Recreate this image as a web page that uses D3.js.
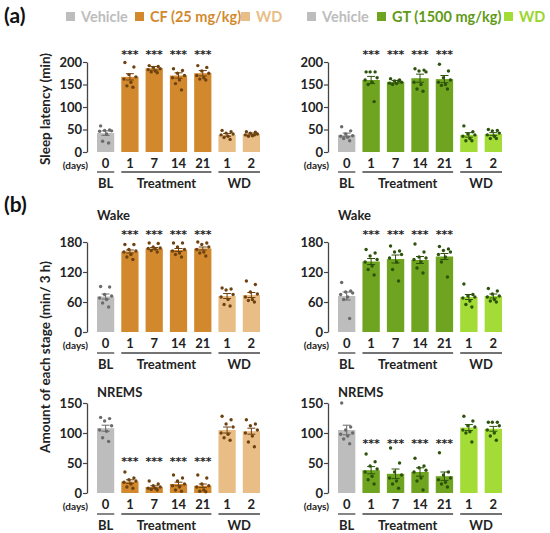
<!DOCTYPE html>
<html><head><meta charset="utf-8">
<script src="https://cdn.jsdelivr.net/npm/d3@7"></script>
<style>body{margin:0;background:#fff}svg{display:block;font-family:Lato,"Open Sans",sans-serif}</style>
</head><body><svg id="c" width="550" height="533"></svg>
<script>
// ---------- data ----------
const dayLabels = ["0","1","7","14","21","1","2"];
const groupLabels = ["BL","Treatment","WD"];
const groupSpans = [[0,0],[1,4],[5,6]];

// Sleep latency (min) — CF panel
const latCF_mean = [42,167,186,170,175,38,40];
const latCF_sem  = [5,7,4,6,6,3,2];
const latCF_pts  = [
 [58,49,48,47,46,40,24,20],
 [199,189,172,167,162,155,147,144],
 [192,190,188,185,183,180,178,176],
 [185,181,175,170,165,160,152,138],
 [192,188,180,175,170,165,162,160],
 [48,45,42,40,38,35,32,28],
 [45,44,42,40,38,36,35,38]];
// Sleep latency (min) — GT panel
const latGT_mean = [38,160,156,164,162,38,40];
const latGT_sem  = [4,8,3,9,8,5,3];
const latGT_pts  = [
 [56,47,40,36,35,33,30,25],
 [178,178,178,165,160,155,150,112],
 [163,160,158,155,153,152,150,158],
 [185,182,180,178,155,150,140,135],
 [195,180,165,160,155,150,148,140],
 [58,45,40,38,35,30,25,25],
 [50,48,47,42,38,35,30,30]];
// Wake (min/3 h)
const wakeCF_mean = [71,161,167,164,167,72,74];
const wakeCF_sem  = [5,3,2,3,3,5,5];
const wakeCF_pts  = [
 [91,90,75,72,68,65,58,50],
 [175,175,165,162,160,155,150,145],
 [178,177,170,168,167,166,163,160],
 [178,178,170,165,162,158,155,150],
 [180,178,175,170,165,160,158,152],
 [88,86,84,75,70,65,55,52],
 [102,95,80,76,70,65,63,60]];
const wakeGT_mean = [72,141,146,144,151,70,72];
const wakeGT_sem  = [8,6,8,7,6,5,4];
const wakeGT_pts  = [
 [99,82,80,78,75,70,65,27],
 [165,158,152,145,140,132,125,114],
 [172,162,160,155,148,140,125,102],
 [176,160,150,148,145,140,128,118],
 [171,166,163,160,155,150,140,110],
 [96,75,72,70,68,62,55,50],
 [87,82,76,72,70,65,62,60]];
// NREMS (min/3 h)
const nremCF_mean = [108,19,10,15,12,105,103];
const nremCF_sem  = [5,3,2,3,3,5,5];
const nremCF_pts  = [
 [126,124,120,112,105,103,92,86],
 [35,25,22,20,18,15,10,8],
 [20,15,12,10,8,8,6,5],
 [30,25,20,15,12,10,5,3],
 [30,25,15,12,10,5,3,2],
 [128,122,115,110,100,98,92,88],
 [122,115,112,105,100,95,85,77]];
const nremGT_mean = [105,38,32,35,28,109,107];
const nremGT_sem  = [8,6,8,7,7,5,4];
const nremGT_pts  = [
 [150,110,105,100,98,95,90,82],
 [65,52,45,40,35,28,22,15],
 [75,50,35,30,25,20,15,8],
 [58,45,42,38,35,25,20,5],
 [67,35,30,25,22,18,15,10],
 [128,120,112,110,105,102,100,85],
 [118,118,118,112,105,100,95,88]];

const sigBars = [1,2,3,4];
const starLevel = {lat:[222,222], wake:[200,200], nrem:[57,87]};
const yDomains = {lat:[0,200], wake:[0,180], nrem:[0,150]};
const yTicks = {lat:[0,50,100,150,200], wake:[0,60,120,180], nrem:[0,50,100,150]};

// ---------- styles ----------
const colVeh = "#bdbdbd", colVehDot = "#6b6b6b";
const pal = {
  CF:{main:"#d2892e", wd:"#e8bd86", dot:"#6e4210", txt:"#d2892e", wdtxt:"#e8bd86"},
  GT:{main:"#6ea41f", wd:"#a3dc36", dot:"#2c520c", txt:"#5f9a16", wdtxt:"#9ad52c"}
};

const svg = d3.select("#c");
const cols = [{key:"CF", axisX:87, x0:97, x1:260}, {key:"GT", axisX:328, x0:338, x1:502}];
const rows = [
  {key:"lat", y0:152, y1:62, daysY:168, lineY:172, grpY:188, title:null},
  {key:"wake", y0:332, y1:242, daysY:348, lineY:353, grpY:369, title:"Wake", titleY:220},
  {key:"nrem", y0:493, y1:403, daysY:509, lineY:514, grpY:530, title:"NREMS", titleY:397}
];
const dataMap = {
  lat:{CF:[latCF_mean,latCF_sem,latCF_pts], GT:[latGT_mean,latGT_sem,latGT_pts]},
  wake:{CF:[wakeCF_mean,wakeCF_sem,wakeCF_pts], GT:[wakeGT_mean,wakeGT_sem,wakeGT_pts]},
  nrem:{CF:[nremCF_mean,nremCF_sem,nremCF_pts], GT:[nremGT_mean,nremGT_sem,nremGT_pts]}
};
const jitter = [-5,4,-1,6,-6,1,-3,3];

rows.forEach(r=>{
  cols.forEach((c,ci)=>{
    const [means,sems,pts] = dataMap[r.key][c.key];
    const p = pal[c.key];
    const x = d3.scaleBand().domain(d3.range(7)).range([c.x0,c.x1]).paddingInner(0.29).paddingOuter(0);
    const y = d3.scaleLinear().domain(yDomains[r.key]).range([r.y0,r.y1]);
    const g = svg.append("g");
    const fill = i => i===0?colVeh:(i<5?p.main:p.wd);
    const dotc = i => i===0?colVehDot:p.dot;
    g.selectAll("rect.bar").data(means).join("rect")
      .attr("x",(d,i)=>x(i)).attr("width",x.bandwidth())
      .attr("y",d=>y(d)).attr("height",d=>y(0)-y(d)).attr("fill",(d,i)=>fill(i));
    pts.forEach((arr,i)=>{
      g.selectAll(null).data(arr).join("circle")
        .attr("cx",(d,k)=>x(i)+x.bandwidth()/2+jitter[k])
        .attr("cy",d=>y(d)).attr("r",1.7).attr("fill",dotc(i));
    });
    means.forEach((m,i)=>{
      const cx = x(i)+x.bandwidth()/2;
      const ec = dotc(i);
      g.append("line").attr("x1",cx).attr("x2",cx).attr("y1",y(m-sems[i])).attr("y2",y(m+sems[i])).attr("stroke",ec).attr("stroke-width",1);
      [m-sems[i], m+sems[i]].forEach(v=>g.append("line").attr("x1",cx-4).attr("x2",cx+4).attr("y1",y(v)).attr("y2",y(v)).attr("stroke",ec).attr("stroke-width",1));
    });
    const ax = g.append("g").attr("transform",`translate(${c.axisX},0)`)
      .call(d3.axisLeft(y).tickValues(yTicks[r.key]).tickSize(4).tickSizeOuter(0).tickPadding(1));
    ax.select(".domain").attr("stroke","#444").attr("stroke-width",1.3);
    ax.selectAll(".tick line").attr("stroke","#444").attr("stroke-width",1.2);
    ax.selectAll(".tick text").attr("font-size",13).attr("font-weight","bold").attr("fill","#222").attr("font-family","Lato,sans-serif");
    sigBars.forEach(i=>{
      g.append("text").attr("x",x(i)+x.bandwidth()/2).attr("y",y(starLevel[r.key][ci])+6)
        .attr("text-anchor","middle").attr("font-size",11).attr("font-weight","bold")
        .attr("font-family","DejaVu Sans,sans-serif").attr("fill","#222").text("***");
    });
    g.selectAll("text.day").data(dayLabels).join("text")
      .attr("x",(d,i)=>x(i)+x.bandwidth()/2).attr("y",r.daysY)
      .attr("text-anchor","middle").attr("font-size",13).attr("font-weight","bold").attr("fill","#222").text(d=>d);
    g.append("text").attr("x",c.axisX+1).attr("y",r.daysY+1).attr("text-anchor","end")
      .attr("font-size",10).attr("font-weight","bold").attr("fill","#222").text("(days)");
    groupSpans.forEach((s,gi)=>{
      const a = x(s[0]), b = x(s[1])+x.bandwidth();
      g.append("line").attr("x1",a).attr("x2",b).attr("y1",r.lineY).attr("y2",r.lineY).attr("stroke","#444").attr("stroke-width",1.3);
      g.append("text").attr("x",(a+b)/2).attr("y",r.grpY).attr("text-anchor","middle")
        .attr("font-size",13).attr("font-weight","bold").attr("fill","#222").text(groupLabels[gi]);
    });
    if(r.title){
      g.append("text").attr("x",c.x0).attr("y",r.titleY).attr("font-size",13).attr("font-weight","bold").attr("fill","#222").text(r.title);
    }
  });
});

svg.append("text").attr("x",4).attr("y",23).attr("font-size",21).attr("font-weight","bold").attr("fill","#111").text("(a)");
svg.append("text").attr("x",4).attr("y",212).attr("font-size",21).attr("font-weight","bold").attr("fill","#111").text("(b)");

svg.append("text").attr("transform","translate(50,109) rotate(-90)").attr("text-anchor","middle")
  .attr("font-size",13.5).attr("font-weight","bold").attr("fill","#222").text("Sleep latency (min)");
svg.append("text").attr("transform","translate(50,357) rotate(-90)").attr("text-anchor","middle")
  .attr("font-size",13.5).attr("font-weight","bold").attr("fill","#222").text("Amount of each stage (min/ 3 h)");

const legendItems = [
  [{t:"Vehicle",c:colVeh,tc:colVeh,x:66},{t:"CF (25 mg/kg)",c:pal.CF.main,tc:pal.CF.txt,x:135},{t:"WD",c:pal.CF.wd,tc:pal.CF.wdtxt,x:241}],
  [{t:"Vehicle",c:colVeh,tc:colVeh,x:307},{t:"GT (1500 mg/kg)",c:pal.GT.main,tc:pal.GT.txt,x:377},{t:"WD",c:pal.GT.wd,tc:pal.GT.wdtxt,x:504}]
];
legendItems.flat().forEach(it=>{
  svg.append("rect").attr("x",it.x).attr("y",12).attr("width",9).attr("height",9).attr("fill",it.c);
  svg.append("text").attr("x",it.x+15).attr("y",21.5).attr("font-size",14.5).attr("font-weight","bold").attr("fill",it.tc).text(it.t);
});
</script></body></html>
